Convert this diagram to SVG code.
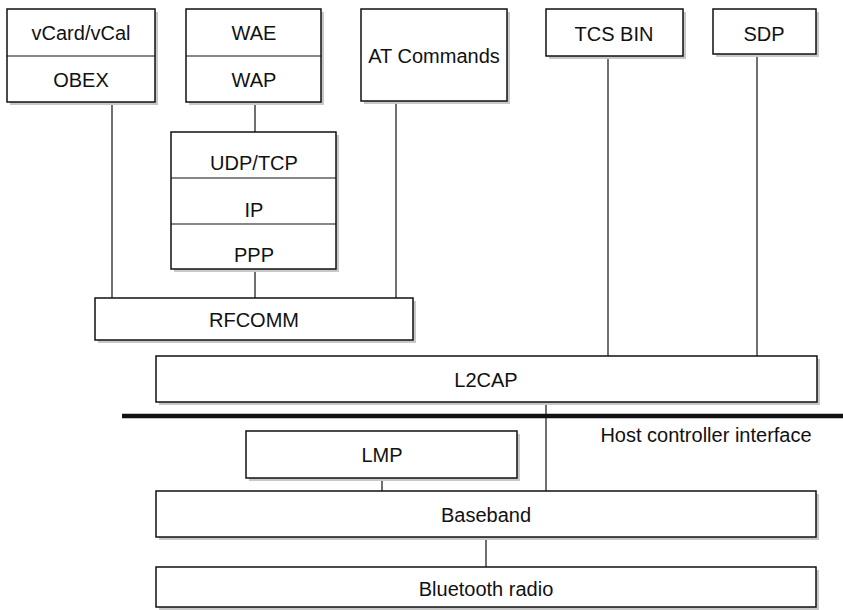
<svg xmlns="http://www.w3.org/2000/svg" width="843" height="610" viewBox="0 0 843 610">
<style>
.sh{fill:#c8c8c8;stroke:none}
.bx{fill:#fff;stroke:#111;stroke-width:1.5}
.dv{stroke:#111;stroke-width:1.2}
.ln{stroke:#111;stroke-width:1.2;fill:none}
text{font-family:"Liberation Sans",Arial,sans-serif;font-size:20px;fill:#111;text-anchor:middle}
</style>
<rect width="843" height="610" fill="#fff"/>
<g id="connectors">
<line class="ln" x1="112" y1="102" x2="112" y2="298"/>
<line class="ln" x1="255" y1="102" x2="255" y2="132"/>
<line class="ln" x1="255" y1="269" x2="255" y2="298"/>
<line class="ln" x1="396" y1="101" x2="396" y2="298"/>
<line class="ln" x1="608" y1="56" x2="608" y2="356"/>
<line class="ln" x1="757" y1="54" x2="757" y2="356"/>
<line class="ln" x1="546" y1="402" x2="546" y2="491"/>
<line class="ln" x1="382" y1="478" x2="382" y2="491"/>
<line class="ln" x1="486" y1="537" x2="486" y2="567"/>
</g>
<g id="hci">
<line x1="122" y1="416" x2="843" y2="416" stroke="#111" stroke-width="4.5"/>
<text x="706" y="442">Host controller interface</text>
</g>
<g id="vcard-obex">
<rect class="sh" x="10" y="12" width="148" height="93"/>
<rect class="bx" x="7" y="9" width="148" height="93"/>
<line class="dv" x1="7" y1="56" x2="155" y2="56"/>
<text x="81" y="40">vCard/vCal</text>
<text x="81" y="87">OBEX</text>
</g>
<g id="wae-wap">
<rect class="sh" x="189" y="12" width="135" height="93"/>
<rect class="bx" x="186" y="9" width="135" height="93"/>
<line class="dv" x1="186" y1="56" x2="321" y2="56"/>
<text x="254" y="40">WAE</text>
<text x="254" y="87">WAP</text>
</g>
<g id="udp-ip-ppp">
<rect class="sh" x="174" y="135" width="165" height="137"/>
<rect class="bx" x="171" y="132" width="165" height="137"/>
<line class="dv" x1="171" y1="178" x2="336" y2="178"/>
<line class="dv" x1="171" y1="224" x2="336" y2="224"/>
<text x="254" y="170">UDP/TCP</text>
<text x="254" y="217">IP</text>
<text x="254" y="262">PPP</text>
</g>
<g id="at-commands">
<rect class="sh" x="364" y="12" width="146" height="92"/>
<rect class="bx" x="361" y="9" width="146" height="92"/>
<text x="434" y="63">AT Commands</text>
</g>
<g id="tcs-bin">
<rect class="sh" x="549" y="12" width="137" height="47"/>
<rect class="bx" x="546" y="9" width="137" height="47"/>
<text x="614" y="41">TCS BIN</text>
</g>
<g id="sdp">
<rect class="sh" x="716" y="12" width="103" height="45"/>
<rect class="bx" x="713" y="9" width="103" height="45"/>
<text x="764" y="41">SDP</text>
</g>
<g id="rfcomm">
<rect class="sh" x="98" y="301" width="318" height="42"/>
<rect class="bx" x="95" y="298" width="318" height="42"/>
<text x="254" y="327">RFCOMM</text>
</g>
<g id="l2cap">
<rect class="sh" x="159" y="359" width="661" height="46"/>
<rect class="bx" x="156" y="356" width="661" height="46"/>
<text x="486" y="387">L2CAP</text>
</g>
<g id="lmp">
<rect class="sh" x="249" y="434" width="271" height="47"/>
<rect class="bx" x="246" y="431" width="271" height="47"/>
<text x="382" y="462">LMP</text>
</g>
<g id="baseband">
<rect class="sh" x="159" y="494" width="660" height="46"/>
<rect class="bx" x="156" y="491" width="660" height="46"/>
<text x="486" y="522">Baseband</text>
</g>
<g id="bluetooth-radio">
<rect class="sh" x="159" y="570" width="660" height="40"/>
<rect class="bx" x="156" y="567" width="660" height="40"/>
<text x="486" y="596">Bluetooth radio</text>
</g>
</svg>
